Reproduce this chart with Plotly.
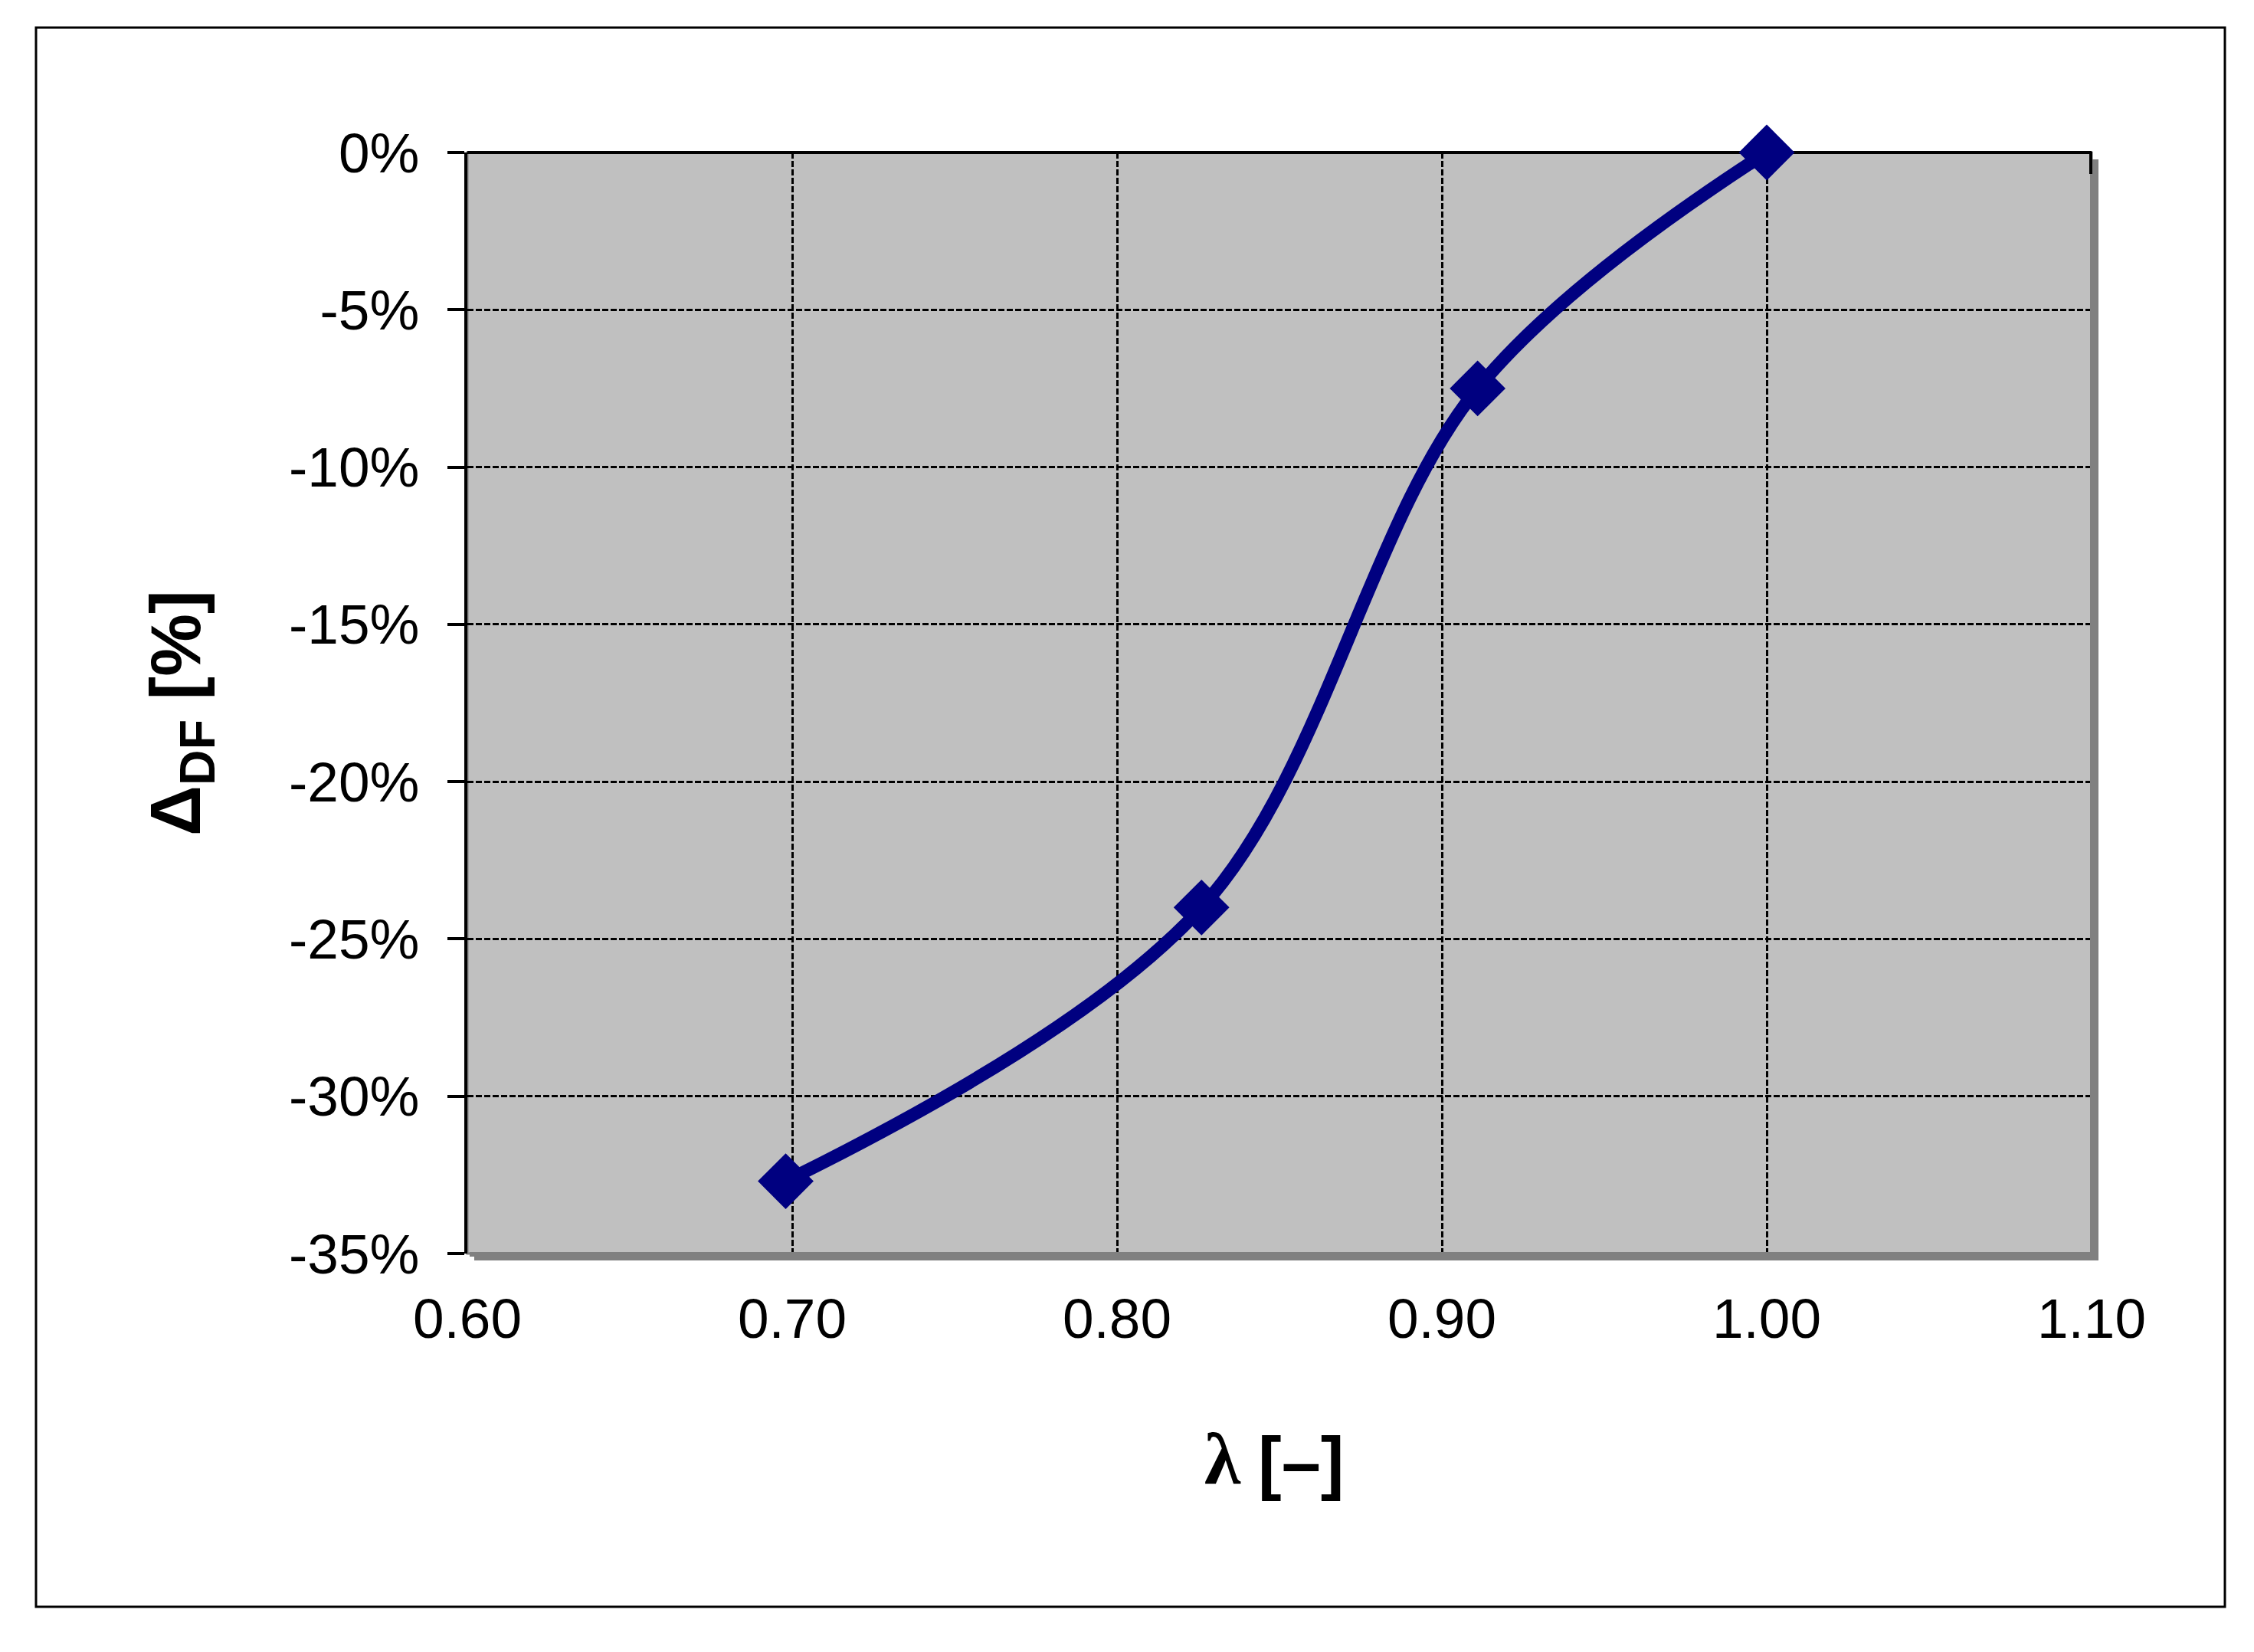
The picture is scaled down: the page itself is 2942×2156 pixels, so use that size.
import plotly.graph_objects as go

# values
lam = [0.698, 0.826, 0.911, 1.000]
delta_df = [-32.7, -24.0, -7.5, 0.0]

x_ticks = [0.60, 0.70, 0.80, 0.90, 1.00, 1.10]
x_ticktext = ["0.60", "0.70", "0.80", "0.90", "1.00", "1.10"]
y_ticks = [0, -5, -10, -15, -20, -25, -30, -35]
y_ticktext = ["0%", "-5%", "-10%", "-15%", "-20%", "-25%", "-30%", "-35%"]

W, H = 2942, 2156
L, R, T, B = 610, 2730, 199, 1636  # plot area in page pixels


def px(x):
    return (x - L) / (R - L)


def py(y):
    return (B - y) / (B - T)


navy = "#000080"
tick_font = dict(family="Liberation Sans, Arial, sans-serif", size=73, color="black")
title_font = dict(family="Liberation Sans, Arial, sans-serif", size=92, color="black")
lambda_font = dict(family="Liberation Serif, Times New Roman, serif", size=96, color="black")

fig = go.Figure()
fig.add_trace(go.Scatter(
    x=lam, y=delta_df, mode="lines+markers",
    line=dict(color=navy, width=17, shape="spline", smoothing=1),
    marker=dict(symbol="diamond", size=56, color=navy),
    cliponaxis=False, showlegend=False, hoverinfo="skip",
))

shapes = [
    # shadow of the plot area
    dict(type="rect", xref="paper", yref="paper", layer="below",
         x0=px(L + 9), x1=px(R + 9), y0=py(B + 9), y1=py(T + 9),
         fillcolor="#808080", line=dict(width=0)),
    # plot area
    dict(type="rect", xref="paper", yref="paper", layer="below",
         x0=0, x1=1, y0=0, y1=1,
         fillcolor="#C0C0C0", line=dict(color="#808080", width=3)),
    # x axis crosses at 0% (top)
    dict(type="line", xref="paper", yref="paper", layer="below",
         x0=0, x1=1, y0=1, y1=1, line=dict(color="black", width=4)),
    dict(type="line", xref="paper", yref="paper", layer="below",
         x0=px(R - 1), x1=px(R - 1), y0=py(T + 28), y1=py(T - 1),
         line=dict(color="black", width=4)),
    # grey border over the grid lines at the right and bottom edges
    dict(type="line", xref="paper", yref="paper", layer="above",
         x0=px(R + 1), x1=px(R + 1), y0=py(B + 9), y1=py(T + 28),
         line=dict(color="#808080", width=6)),
    dict(type="line", xref="paper", yref="paper", layer="above",
         x0=px(L + 3), x1=px(R + 9), y0=py(B + 1), y1=py(B + 1),
         line=dict(color="#808080", width=6)),
    # chart border
    dict(type="rect", xref="paper", yref="paper", layer="below",
         x0=px(47), x1=px(2904), y0=py(2097), y1=py(36),
         line=dict(color="black", width=3)),
]

fig.update_layout(
    width=W, height=H,
    margin=dict(l=L, r=W - R, t=T, b=H - B, pad=0),
    paper_bgcolor="white",
    plot_bgcolor="rgba(0,0,0,0)",
    shapes=shapes,
    xaxis=dict(
        range=[0.60, 1.10], tickvals=x_ticks, ticktext=x_ticktext,
        tickfont=tick_font, showline=False, zeroline=False, ticks="",
        showgrid=True, gridcolor="black", gridwidth=3, griddash="8px,3px",
        ticklabelstandoff=36,
    ),
    yaxis=dict(
        range=[-35, 0], tickvals=y_ticks, ticktext=y_ticktext,
        tickfont=tick_font, showline=True, linecolor="black", linewidth=4,
        ticks="outside", ticklen=22, tickwidth=4, tickcolor="black",
        zeroline=False,
        showgrid=True, gridcolor="black", gridwidth=3, griddash="8px,3px",
        ticklabelstandoff=22,
    ),
    annotations=[
        dict(text="<b>λ</b>",
             xref="paper", yref="paper", x=px(1622), y=py(1904),
             xanchor="right", yanchor="middle", showarrow=False, font=lambda_font),
        dict(text="<b>[–]</b>",
             xref="paper", yref="paper", x=px(1640), y=py(1908),
             xanchor="left", yanchor="middle", showarrow=False, font=title_font),
        dict(text="<b>Δ<sub>DF</sub> [%]</b>", textangle=-90,
             xref="paper", yref="paper", x=px(236), y=py(931),
             xanchor="center", yanchor="middle", showarrow=False, font=title_font),
    ],
)

fig.write_html("out.html", config={"displayModeBar": False},
               post_script="document.body.style.margin='0';")
